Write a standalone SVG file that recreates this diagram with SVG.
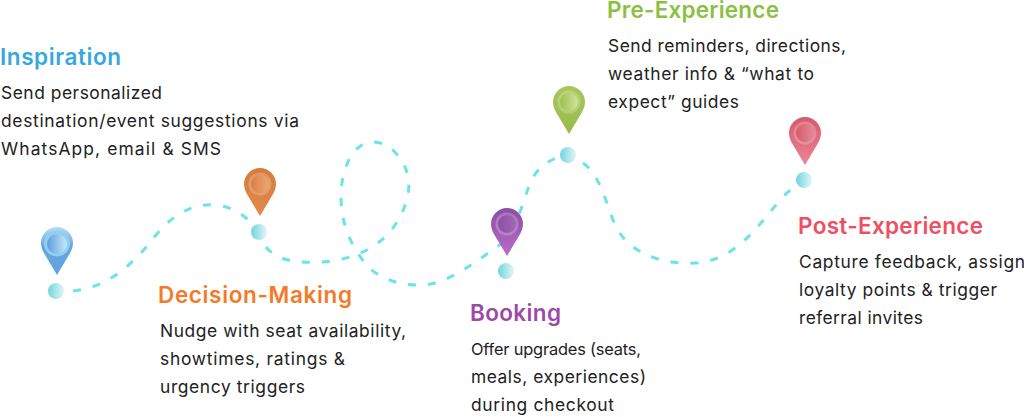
<svg xmlns="http://www.w3.org/2000/svg" width="1024" height="417" viewBox="0 0 1024 417">
<style>
text{font-family:"Inter","Open Sans","Liberation Sans",sans-serif}
.h{font-size:22.5px;font-weight:600}
.b{font-size:17.4px;fill:#222}
.route{fill:none;stroke:#6be3e9;stroke-width:3;stroke-dasharray:8 12}
.dot{fill:url(#dot)}
</style>
<defs>
<linearGradient id="dot"><stop offset="0" stop-color="#6fd6dc"/><stop offset="1" stop-color="#e2f6f8"/></linearGradient>
<linearGradient id="blue" x1="0" y1="0" x2="0" y2="1"><stop offset="0" stop-color="#b5def7"/><stop offset=".42" stop-color="#62a5e0"/></linearGradient>
<linearGradient id="blueI"><stop offset="0" stop-color="#5c9fdc"/><stop offset="1" stop-color="#c4e8f8"/></linearGradient>
<linearGradient id="orange" x1="0" y1="0" x2="0" y2="1"><stop offset="0" stop-color="#d77c3a"/><stop offset="1" stop-color="#e08a4c"/></linearGradient>
<linearGradient id="orangeI"><stop offset="0" stop-color="#d98043"/><stop offset="1" stop-color="#eba873"/></linearGradient>
<linearGradient id="purple" x1="0" y1="0" x2="0" y2="1"><stop offset="0" stop-color="#8a4fa3"/><stop offset="1" stop-color="#b96cc8"/></linearGradient>
<linearGradient id="purpleI"><stop offset="0" stop-color="#8c4fa5"/><stop offset="1" stop-color="#a566b8"/></linearGradient>
<linearGradient id="green" x1="0" y1="0" x2="0" y2="1"><stop offset="0" stop-color="#a9c75c"/><stop offset="1" stop-color="#97bb4a"/></linearGradient>
<linearGradient id="greenI"><stop offset="0" stop-color="#9dbe4f"/><stop offset="1" stop-color="#d3e39a"/></linearGradient>
<linearGradient id="red" x1="0" y1="0" x2="0" y2="1"><stop offset="0" stop-color="#d65a6c"/><stop offset="1" stop-color="#ea8595"/></linearGradient>
<linearGradient id="redI"><stop offset="0" stop-color="#d55a6b"/><stop offset="1" stop-color="#e58a96"/></linearGradient>
<path id="pin" d="M0 24L-12.5 3C-15 -1 -16 -5 -16 -8A16 16 0 0 1 16 -8C16 -5 15 -1 12.5 3Z"/>
<g id="face"><circle r="11.5" fill="#fff" fill-opacity=".22"/></g>
</defs>
<g id="connectors">
<path class="route" d="M73 291C110 287 135 262 156 235C175 212 195 203 216 205C234 207 246 216 252 225"/>
<path class="route" d="M266 247C278 262 300 263 322 262C352 260 380 248 395 225C408 205 413 185 405 167C397 150 385 142 372 142C350 143 340 175 341 200C342 225 350 245 368 267C385 282 405 286 425 285C450 282 475 262 497 247C515 235 522 205 530 183C537 168 548 160 560 157"/>
<path class="route" d="M583 163C600 175 605 200 615 225C628 252 660 265 695 263C735 260 755 230 780 200C787 192 794 187 800 184"/>
</g>
<g id="inspiration">
<use href="#pin" x="57" y="251" fill="url(#blue)"/><circle cx="57" cy="243.500" r="13" fill="#94cdf1"/><circle cx="57" cy="244" r="10" fill="url(#blueI)"/>
<circle class="dot" cx="56" cy="291" r="8"/>
<text class="h" x="0" y="65" fill="#35a8e0" textLength="121">Inspiration</text>
<text class="b" x="1" y="99" textLength="161">Send personalized</text>
<text class="b" x="1" y="127" textLength="298">destination/event suggestions via</text>
<text class="b" x="1" y="155" textLength="220">WhatsApp, email &amp; SMS</text>
</g>
<g id="decision-making">
<use href="#pin" x="260" y="192" fill="url(#orange)"/><use href="#face" x="260" y="184"/><circle cx="260" cy="184" r="9" fill="url(#orangeI)"/>
<circle class="dot" cx="259" cy="232" r="8"/>
<text class="h" x="158" y="303" fill="#f47a27" textLength="194">Decision-Making</text>
<text class="b" x="160" y="337" textLength="246">Nudge with seat availability,</text>
<text class="b" x="160" y="365" textLength="185">showtimes, ratings &amp;</text>
<text class="b" x="160" y="393" textLength="145">urgency triggers</text>
</g>
<g id="booking">
<use href="#pin" x="507" y="232" fill="url(#purple)"/><use href="#face" x="507" y="224"/><circle cx="507" cy="224" r="9" fill="url(#purpleI)"/>
<circle class="dot" cx="506" cy="271" r="8"/>
<text class="h" x="470" y="321" fill="#9c4aa5" textLength="91">Booking</text>
<text class="b" x="471" y="355" font-size="16.4" style="font-size:16.4px" textLength="170">Offer upgrades (seats,</text>
<text class="b" x="471" y="383" textLength="175">meals, experiences)</text>
<text class="b" x="471" y="411" textLength="143">during checkout</text>
</g>
<g id="pre-experience">
<use href="#pin" x="569" y="110" fill="url(#green)"/><use href="#face" x="569" y="102"/><circle cx="569" cy="102" r="9" fill="url(#greenI)"/>
<circle class="dot" cx="568" cy="155" r="8"/>
<text class="h" x="607" y="18" fill="#8cc044" textLength="172">Pre-Experience</text>
<text class="b" x="608" y="52" textLength="238">Send reminders, directions,</text>
<text class="b" x="608" y="80" textLength="206">weather info &amp; “what to</text>
<text class="b" x="608" y="108" textLength="131">expect” guides</text>
</g>
<g id="post-experience">
<use href="#pin" x="805" y="141" fill="url(#red)"/><use href="#face" x="805" y="133"/><circle cx="805" cy="133" r="9" fill="url(#redI)"/>
<circle class="dot" cx="804" cy="180" r="8"/>
<text class="h" x="798" y="234" fill="#ef4f63" textLength="185">Post-Experience</text>
<text class="b" x="799" y="268" textLength="226">Capture feedback, assign</text>
<text class="b" x="799" y="296" textLength="198">loyalty points &amp; trigger</text>
<text class="b" x="799" y="324" textLength="124">referral invites</text>
</g>
</svg>
